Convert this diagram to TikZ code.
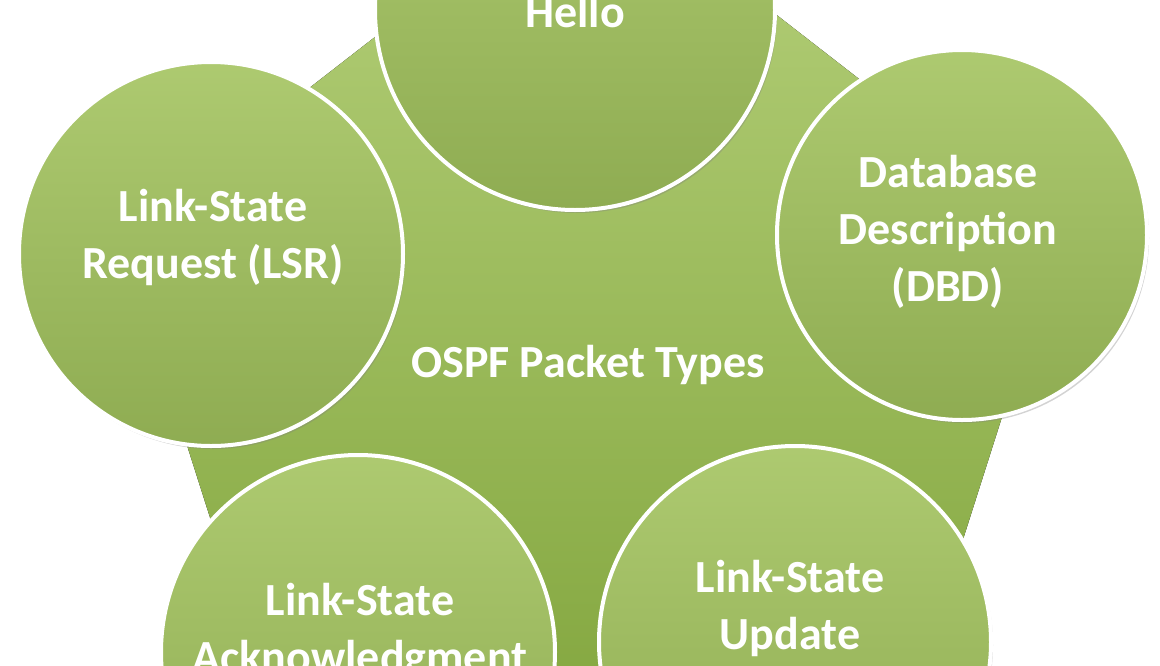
\documentclass[tikz,border=0pt]{standalone}
\usepackage{fontspec}
\setmainfont{Carlito}
\usetikzlibrary{shadows}
\definecolor{cg}{HTML}{9BBB59}
\definecolor{cgd}{HTML}{7FA33A}
\definecolor{cgl}{HTML}{B5D07A}
\tikzset{
 bub/.style={circle,draw=white,line width=4pt,top color=cgl!70!cg,bottom color=cg!92!black,minimum size=#1,inner sep=0pt,drop shadow={opacity=0.35,shadow xshift=2pt,shadow yshift=-3pt}},
 lbl/.style={text=white,font=\fontsize{46}{57}\selectfont\bfseries,align=center}
}
\begin{document}
\begin{tikzpicture}[x=1pt,y=-1pt]
\useasboundingbox (0,0) rectangle (1160,665);
\begin{scope}
\clip (0,0) rectangle (1160,665);
\fill[top color=cgl,bottom color=cgd,rounded corners=60] (590,-130) -- (1060,235) -- (880,800) -- (300,800) -- (120,235) -- cycle;
\node[lbl] (c) at (588,365) {OSPF Packet Types};
\node[bub=400pt] (h) at (575,10) {};
\node[bub=370pt] (d) at (962,235) {};
\node[bub=384pt] (l) at (211,254) {};
\node[bub=394pt] (a) at (358,652) {};
\node[bub=392pt] (u) at (795,642) {};
\node[lbl] at (575,12) {Hello};
\node[lbl] at (948,232) {Database\\Description\\(DBD)};
\node[lbl] at (213,237) {Link-State\\Request (LSR)};
\node[lbl] at (360,632) {Link-State\\Acknowledgment};
\node[lbl] at (790,608) {Link-State\\Update};
\end{scope}
\end{tikzpicture}
\end{document}
